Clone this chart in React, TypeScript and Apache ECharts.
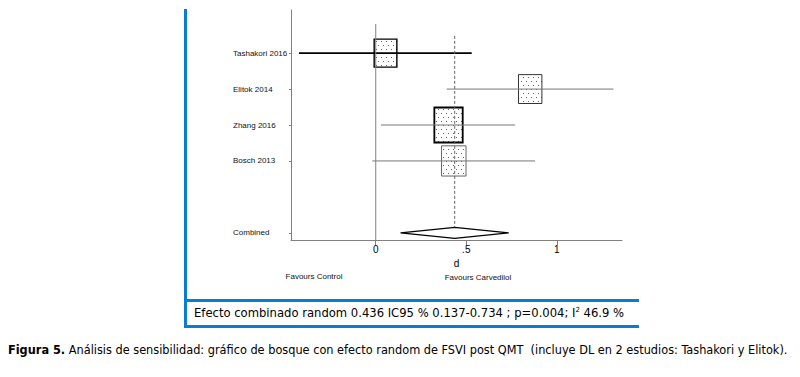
import React, { useEffect, useRef } from "react";
import * as echarts from "echarts";

// ---- data ----
const STUDIES = ["Tashakori 2016", "Elitok 2014", "Zhang 2016", "Bosch 2013"];
const EST = [0.054, 0.853, 0.402, 0.431];
const CI_LO = [-0.424, 0.392, 0.029, -0.019];
const CI_HI = [0.53, 1.313, 0.77, 0.88];
const WEIGHT = [20.9, 22.2, 32.6, 24.3];
const STUDY_ROWS = [0, 1, 2, 3];
const COMBINED_LABEL = "Combined";
const COMBINED_ROW = 5;
const POOLED = 0.436;
const POOLED_LO = 0.137;
const POOLED_HI = 0.734;
const X_TICKS = [0, 0.5, 1];
const X_TICK_LABELS = ["0", ".5", "1"];
const SUMMARY_TEXT = "Efecto combinado random 0.436 IC95 % 0.137-0.734 ; p=0.004; ";
const I2_TEXT = "46.9 %";
const CAPTION_BOLD = "Figura 5.";
const CAPTION =
  " Análisis de sensibilidad: gráfico de bosque con efecto random de FSVI post QMT  (incluye DL en 2 estudios: Tashakori y Elitok).";

// ---- styles (kept apart from data) ----
const LINE_STYLE = [
  { stroke: "#000", lineWidth: 1.8 },
  { stroke: "#777", lineWidth: 1 },
  { stroke: "#777", lineWidth: 1 },
  { stroke: "#777", lineWidth: 1 },
];
const BOX_STYLE = [
  { stroke: "#000", lineWidth: 1.4 },
  { stroke: "#333", lineWidth: 1 },
  { stroke: "#000", lineWidth: 1.8 },
  { stroke: "#666", lineWidth: 1 },
];
const BLUE = "#0a7dcc";
const FONT = "'Liberation Sans', Arial, sans-serif";

function makeDots(): string {
  const c = document.createElement("canvas");
  c.width = 10;
  c.height = 8;
  const ctx = c.getContext("2d")!;
  ctx.fillStyle = "#fff";
  ctx.fillRect(0, 0, 10, 8);
  ctx.fillStyle = "#666";
  ctx.fillRect(1, 1, 1, 1);
  ctx.fillRect(6, 1, 1, 1);
  ctx.fillRect(3, 5, 1, 1);
  ctx.fillRect(8, 5, 1, 1);
  return c.toDataURL();
}

export default function App() {
  const ref = useRef<HTMLDivElement>(null);
  useEffect(() => {
    const chart = echarts.init(ref.current!, null, { renderer: "svg" });
    const dots = { image: makeDots(), repeat: "repeat" };
    const rowNames: Record<number, string> = {};
    STUDY_ROWS.forEach((r, i) => (rowNames[r] = STUDIES[i]));
    rowNames[COMBINED_ROW] = COMBINED_LABEL;
    const rowValues = [...STUDY_ROWS, COMBINED_ROW];

    const option: any = {
      animation: false,
      backgroundColor: "#fff",
      grid: { left: 291, right: 178, top: 10, bottom: 137, containLabel: false },
      xAxis: {
        type: "value",
        min: -0.468,
        max: 1.36,
        splitLine: { show: false },
        axisLine: { show: true, onZero: false, lineStyle: { color: "#808080", width: 1 } },
        axisTick: { show: true, customValues: X_TICKS, length: 5, lineStyle: { color: "#808080" } },
        axisLabel: {
          customValues: X_TICKS,
          formatter: (v: number) => X_TICK_LABELS[X_TICKS.indexOf(v)] ?? "",
          color: "#000",
          fontSize: 10,
          fontFamily: FONT,
          margin: 4,
        },
        name: "d",
        nameLocation: "middle",
        nameGap: 12,
        nameTextStyle: { color: "#000", fontSize: 10, fontFamily: FONT },
      },
      yAxis: {
        type: "value",
        min: -1.2,
        max: 5.2,
        inverse: true,
        splitLine: { show: false },
        axisLine: { show: true, onZero: false, lineStyle: { color: "#808080", width: 1 } },
        axisTick: { show: true, customValues: rowValues, length: 2, lineStyle: { color: "#808080" } },
        axisLabel: {
          customValues: rowValues,
          formatter: (v: number) => rowNames[v] ?? "",
          color: "#111",
          fontSize: 8,
          fontFamily: FONT,
          align: "left",
          margin: 58,
          padding: [0, 0, 4, 0],
        },
      },
      series: [
        {
          type: "custom",
          name: "studies",
          data: EST.map((e, i) => [e, CI_LO[i], CI_HI[i], STUDY_ROWS[i], WEIGHT[i]]),
          renderItem: (params: any, api: any) => {
            const i = params.dataIndex;
            const row = api.value(3);
            const [xe, y] = api.coord([api.value(0), row]);
            const [xl] = api.coord([api.value(1), row]);
            const [xh] = api.coord([api.value(2), row]);
            const h = 6.13 * Math.sqrt(api.value(4));
            const w = h * 0.81;
            return {
              type: "group",
              children: [
                {
                  type: "rect",
                  shape: { x: xe - w / 2, y: y - h / 2, width: w, height: h },
                  style: { fill: dots, ...BOX_STYLE[i] },
                },
                {
                  type: "line",
                  shape: { x1: xl, y1: y, x2: xh, y2: y },
                  style: { ...LINE_STYLE[i] },
                },
              ],
            };
          },
        },
        {
          type: "custom",
          name: "combined",
          data: [[POOLED, POOLED_LO, POOLED_HI, COMBINED_ROW]],
          renderItem: (params: any, api: any) => {
            const row = api.value(3);
            const [xe, y] = api.coord([api.value(0), row]);
            const [xl] = api.coord([api.value(1), row]);
            const [xh] = api.coord([api.value(2), row]);
            const hh = 5.5;
            return {
              type: "polygon",
              shape: { points: [[xl, y], [xe, y - hh], [xh, y], [xe, y + hh]] },
              style: { fill: "#fff", stroke: "#000", lineWidth: 1.2 },
            };
          },
        },
        {
          type: "custom",
          name: "refs",
          z: 5,
          data: [[0, -0.81, 5.2, 0], [POOLED, -0.48, COMBINED_ROW, 1]],
          renderItem: (params: any, api: any) => {
            const dashed = api.value(3) === 1;
            const [x, y1] = api.coord([api.value(0), api.value(1)]);
            let [, y2] = api.coord([api.value(0), api.value(2)]);
            if (dashed) y2 -= 5.5;
            return {
              type: "line",
              shape: { x1: x, y1, x2: x, y2 },
              style: dashed
                ? { stroke: "#666", lineWidth: 1, lineDash: [3, 2] }
                : { stroke: "#808080", lineWidth: 1 },
            };
          },
        },
      ],
      graphic: [
        { type: "rect", left: 184, top: 9, shape: { width: 3, height: 319 }, style: { fill: BLUE } },
        { type: "rect", left: 184, top: 299, shape: { width: 455, height: 3 }, style: { fill: BLUE } },
        { type: "rect", left: 184, top: 325, shape: { width: 455, height: 3 }, style: { fill: BLUE } },
        {
          type: "text",
          x: 314,
          y: 276,
          style: { text: "Favours Control", fill: "#111", font: `8px ${FONT}`, align: "center", verticalAlign: "middle" },
        },
        {
          type: "text",
          x: 478,
          y: 277,
          style: { text: "Favours Carvedilol", fill: "#111", font: `8px ${FONT}`, align: "center", verticalAlign: "middle" },
        },
        {
          type: "text",
          x: 194,
          y: 313,
          style: {
            text: `{a|${SUMMARY_TEXT}}{a|I}{sup|2}{a| ${I2_TEXT}}`,
            verticalAlign: "middle",
            rich: {
              a: { fontFamily: "'DejaVu Sans', Verdana, sans-serif", fontSize: 11.6, color: "#1a1a1a" },
              sup: {
                fontFamily: "'DejaVu Sans', Verdana, sans-serif",
                fontSize: 7,
                color: "#1a1a1a",
                verticalAlign: "top",
                padding: [0, 0, 6, 0],
              },
            },
          },
        },
        {
          type: "text",
          x: 8,
          y: 349,
          style: {
            text: `{b|${CAPTION_BOLD}}{n|${CAPTION}}`,
            verticalAlign: "middle",
            rich: {
              b: { fontFamily: "'DejaVu Sans Condensed', 'DejaVu Sans', sans-serif", fontSize: 12.6, fontWeight: "bold", color: "#333" },
              n: { fontFamily: "'DejaVu Sans Condensed', 'DejaVu Sans', sans-serif", fontSize: 12.6, color: "#333" },
            },
          },
        },
      ],
    };
    chart.setOption(option);
    return () => chart.dispose();
  }, []);
  return (
    <div
      ref={ref}
      style={{ position: "absolute", left: 0, top: 0, width: 800, height: 377, background: "#fff" }}
    />
  );
}
